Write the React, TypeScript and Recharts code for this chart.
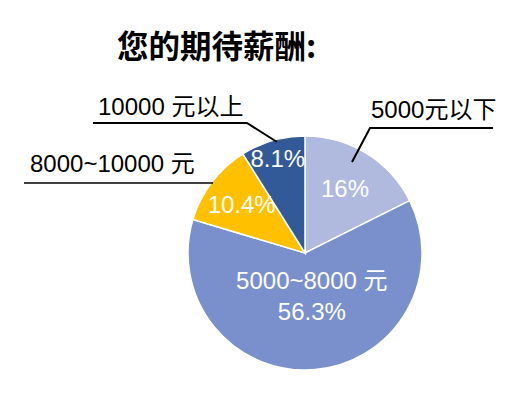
import React from "react";
import { Pie, PieChart, Cell } from "recharts";

const categories = ["5000元以下", "5000~8000 元", "8000~10000 元", "10000 元以上"];
const shares = [16, 56.3, 10.4, 8.1];
const percentLabels = ["16%", "56.3%", "10.4%", "8.1%"];
const sliceColors = ["#AFBADE", "#7990CD", "#FFC000", "#335A98"];

const data = categories.map((name, i) => ({ name, value: shares[i], pct: percentLabels[i] }));

const RADIAN = Math.PI / 180;
const FONT = "'Liberation Sans', Arial, 'Noto Sans CJK SC', sans-serif";

// radius (as share of outer radius) for the white label inside each slice
const innerLabelR = [0.65, 0.38, 0.68, 0.84];

// outside callouts, offsets from the pie centre: text pos, then leader polyline
const callouts: Record<number, { tx: number; ty: number; line: [number, number][] }> = {
  0: { tx: 66, ty: -135, line: [[188, -125], [65, -125], [47, -91]] },
  2: { tx: -275, ty: -81, line: [[-281, -70], [-92, -70]] },
  3: { tx: -207, ty: -138, line: [[-212, -130], [-58, -130], [-28, -111]] },
};

function renderLabel(props: any) {
  const { cx, cy, midAngle, outerRadius, index } = props;
  const r = outerRadius * innerLabelR[index];
  const x = cx + r * Math.cos(-midAngle * RADIAN);
  const y = cy + r * Math.sin(-midAngle * RADIAN);
  const co = callouts[index];
  return (
    <g>
      {index === 1 ? (
        <text x={x} y={y} fill="#fff" fontSize={24} fontFamily={FONT} textAnchor="middle">
          <tspan x={x + 3} dy={-8}>{categories[index]}</tspan>
          <tspan x={x + 3} dy={31}>{percentLabels[index]}</tspan>
        </text>
      ) : (
        <text
          x={x}
          y={y}
          fill="#fff"
          fontSize={24}
          fontFamily={FONT}
          textAnchor="middle"
          dominantBaseline="central"
        >
          {percentLabels[index]}
        </text>
      )}
      {co && (
        <>
          <polyline
            points={co.line.map(([a, b]) => `${cx + a},${cy + b}`).join(" ")}
            fill="none"
            stroke="#000"
            strokeWidth={index === 2 ? 1.5 : 2}
          />
          <text x={cx + co.tx} y={cy + co.ty} fill="#000" fontSize={24} fontFamily={FONT}>
            {categories[index]}
          </text>
        </>
      )}
    </g>
  );
}

export default function App() {
  return (
    <div style={{ position: "absolute", left: 0, top: 0, width: 518, height: 396, background: "#fff" }}>
      <div
        style={{
          position: "absolute",
          left: 117,
          top: 23,
          fontFamily: "'Noto Sans CJK SC', sans-serif",
          fontWeight: 700,
          fontSize: 31.5,
          lineHeight: "42px",
          color: "#000",
          whiteSpace: "nowrap",
        }}
      >
        您的期待薪酬:
      </div>
      <PieChart
        width={518}
        height={396}
        margin={{ top: 0, right: 0, bottom: 0, left: 0 }}
        style={{ position: "absolute", left: 0, top: 0 }}
      >
        <Pie
          data={data}
          dataKey="value"
          nameKey="name"
          cx={305}
          cy={253}
          outerRadius={117}
          startAngle={90}
          endAngle={-270}
          stroke="#fff"
          strokeWidth={1.5}
          label={renderLabel}
          labelLine={false}
          isAnimationActive={false}
        >
          {data.map((d, i) => (
            <Cell key={d.name} fill={sliceColors[i]} />
          ))}
        </Pie>
      </PieChart>
    </div>
  );
}
